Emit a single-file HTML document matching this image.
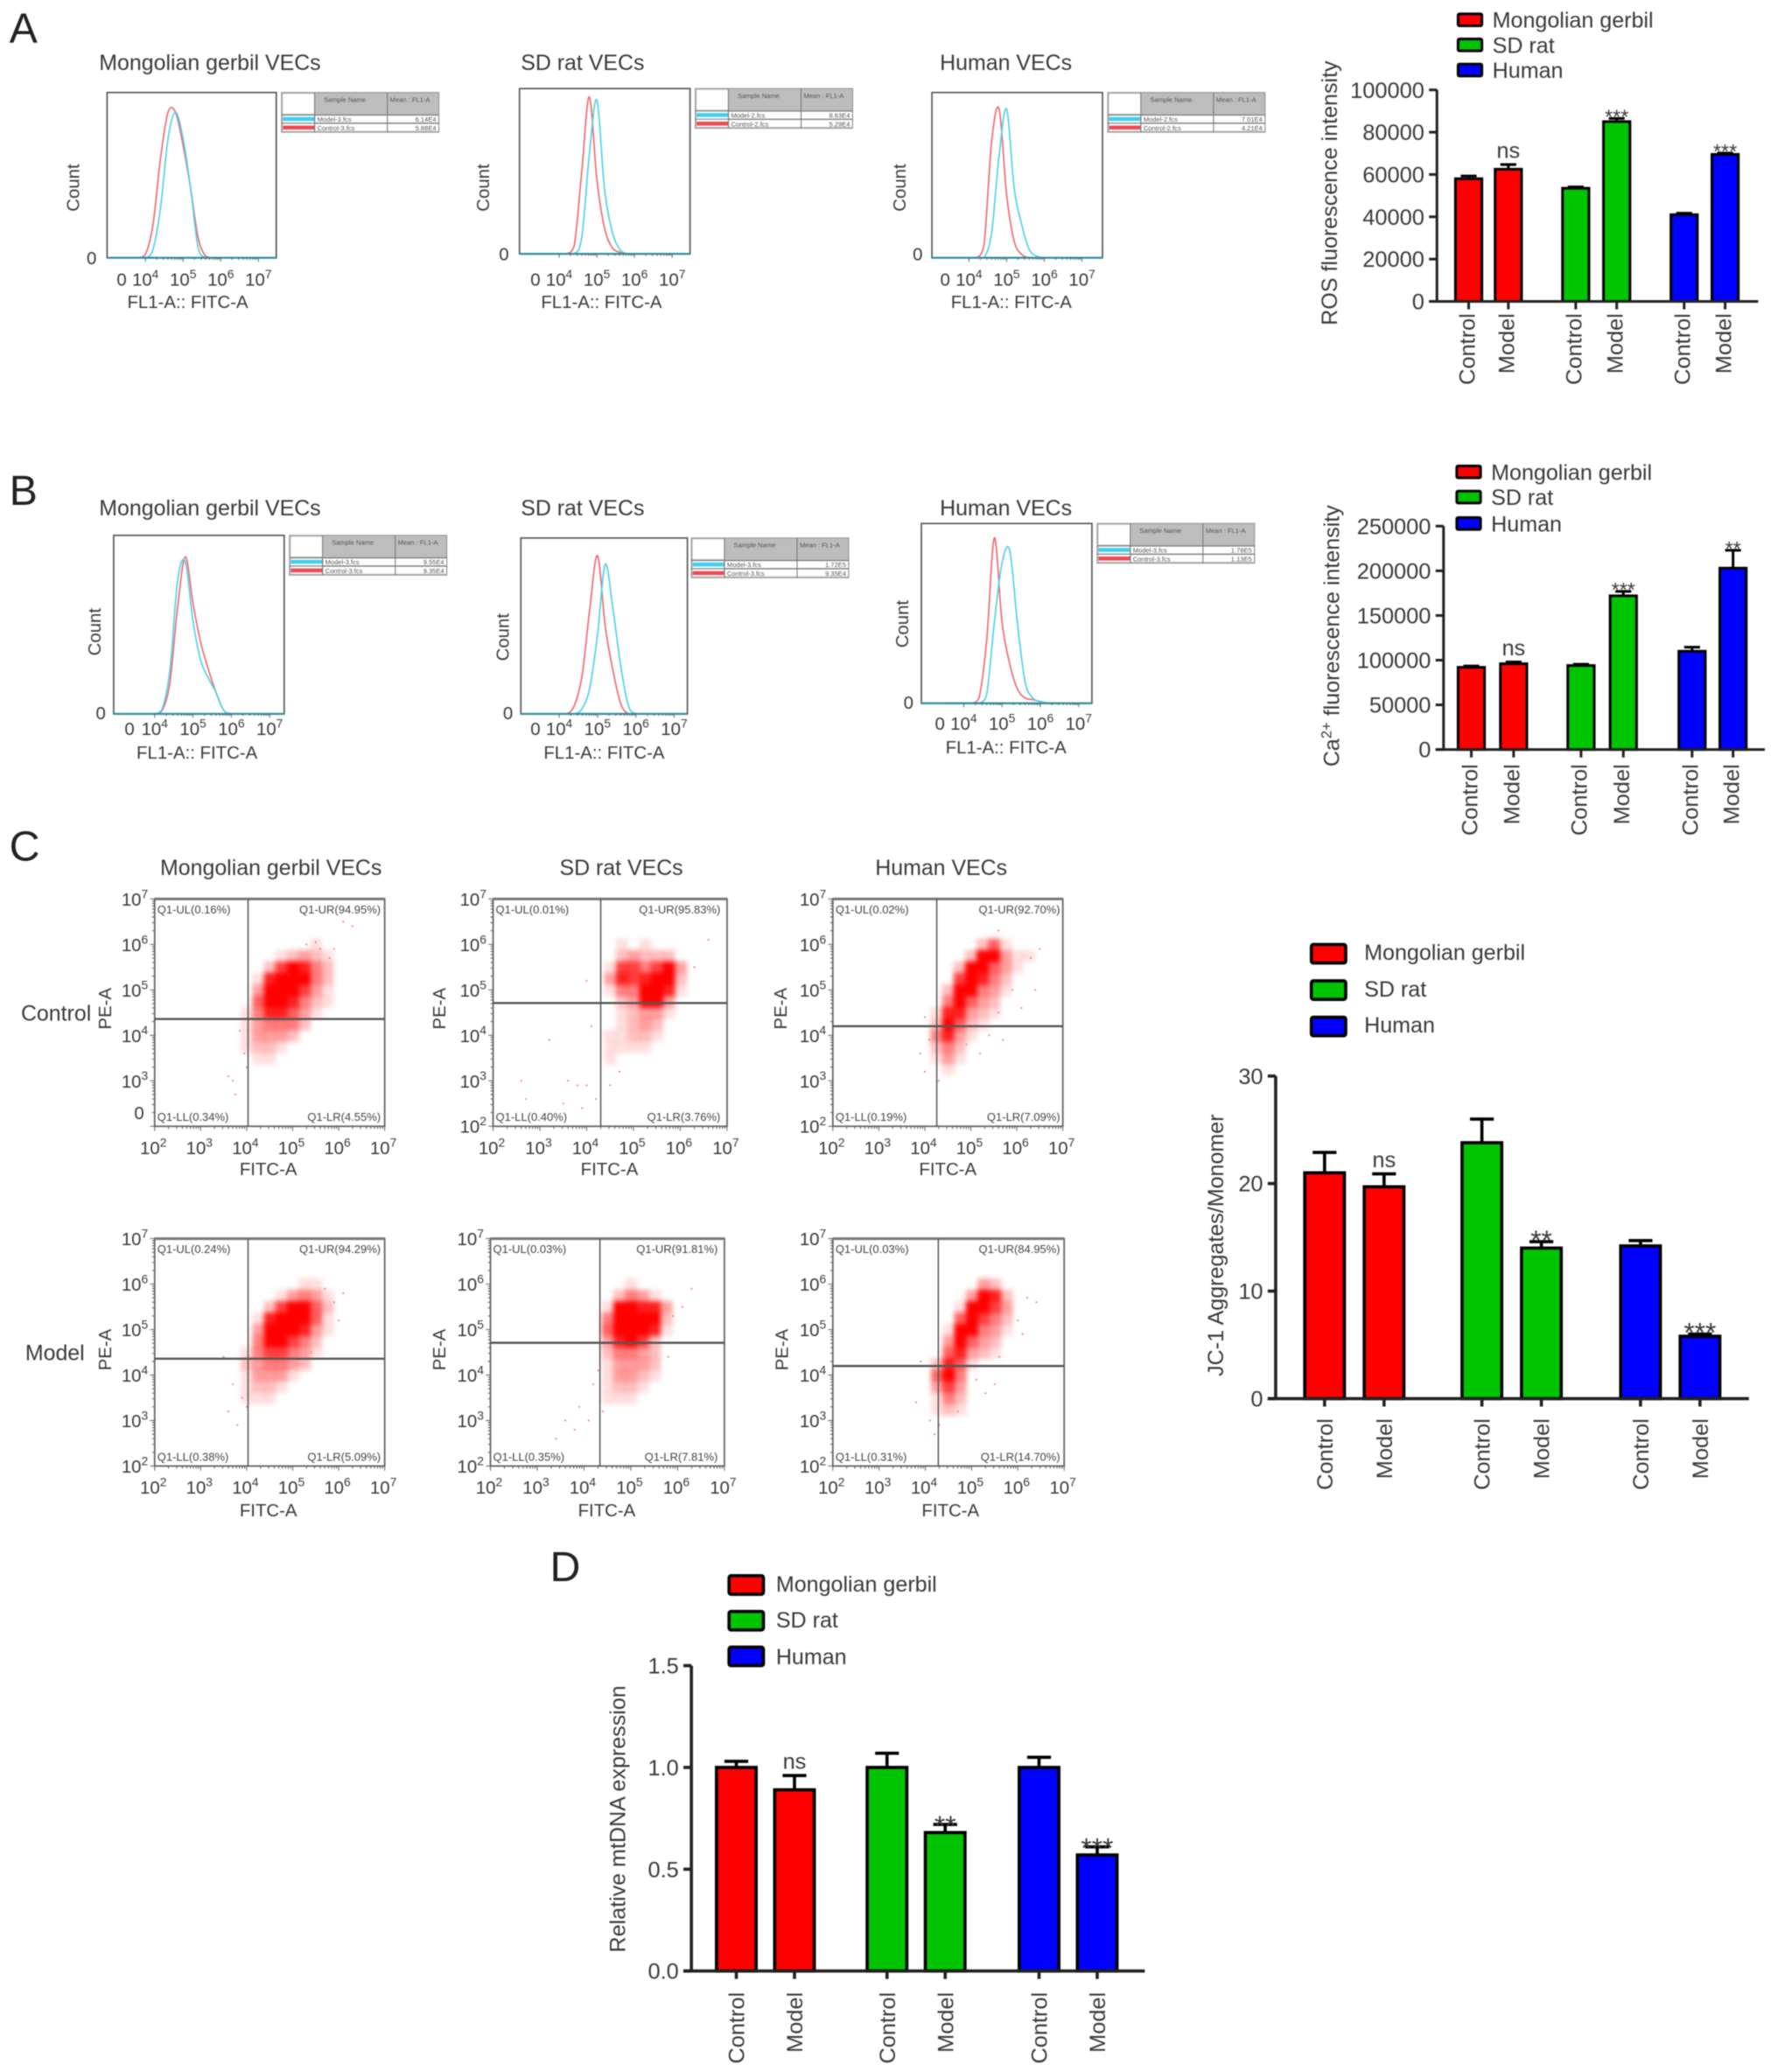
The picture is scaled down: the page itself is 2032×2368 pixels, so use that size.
<!DOCTYPE html>
<html lang="en">
<head>
<meta charset="utf-8">
<title>Flow cytometry and bar chart figure</title>
<style>
html,body{margin:0;padding:0;background:#fff;}
svg{display:block;width:2032px;height:2368px;filter:blur(0.6px);font-family:"Liberation Sans",sans-serif;}
.t{fill:#3a3a3a;font-size:16.6px;}
.title{fill:#3a3a3a;font-size:16.5px;}
.hx{fill:#3a3a3a;font-size:13.5px;text-anchor:middle;}
.cnt{fill:#3a3a3a;font-size:13.5px;text-anchor:middle;}
.zero{fill:#3a3a3a;font-size:13.5px;text-anchor:end;}
.letter{fill:#222;font-size:32px;}
.row{fill:#3a3a3a;font-size:16.5px;text-anchor:end;}
.q{fill:#444;font-size:8.6px;}
.qr{fill:#444;font-size:8.6px;text-anchor:end;}
.tb{fill:#555;font-size:5px;}
.tbr{fill:#555;font-size:5px;text-anchor:end;}
</style>
</head>
<body>
<svg id="fig" xmlns="http://www.w3.org/2000/svg" viewBox="0 0 1345 1567.4">
<defs>
<filter id="soft" x="-20%" y="-20%" width="140%" height="140%"><feGaussianBlur stdDeviation="2"/></filter>
<symbol id="tableFrame" overflow="visible">
<rect x="0" y="0" width="119" height="30" fill="#bdbdbd" stroke="#999" stroke-width="0.8"/>
<rect x="1" y="1" width="24" height="15" fill="#fff"/>
<rect x="1" y="17" width="24" height="12" fill="#fff"/>
<rect x="25.5" y="17.5" width="93" height="5.2" fill="#fff"/>
<rect x="25.5" y="23.8" width="93" height="5.2" fill="#fff"/>
<rect x="1" y="18.5" width="24" height="3" fill="#3fd0f0"/>
<rect x="1" y="25" width="24" height="3" fill="#f04a55"/>
<path d="M25 0V30M80 0V30M0 17H119M0 23.2H119" stroke="#777" stroke-width="0.7" fill="none"/>
</symbol>
</defs>

<text class="letter" x="7" y="32">A</text>
<text class="letter" x="7" y="382">B</text>
<text class="letter" x="7" y="651">C</text>
<text class="letter" x="416" y="1196">D</text>

<!-- Panel A titles and labels -->
<text class="title" x="75" y="53">Mongolian gerbil VECs</text>
<text class="title" x="394" y="53">SD rat VECs</text>
<text class="title" x="711" y="53">Human VECs</text>
<text class="hx" x="142" y="233">FL1-A:: FITC-A</text>
<text class="hx" x="455" y="233">FL1-A:: FITC-A</text>
<text class="hx" x="765" y="233">FL1-A:: FITC-A</text>
<text class="cnt" transform="translate(60,142) rotate(-90)">Count</text>
<text class="cnt" transform="translate(370,142) rotate(-90)">Count</text>
<text class="cnt" transform="translate(685,142) rotate(-90)">Count</text>
<text class="zero" x="73" y="200">0</text>
<text class="zero" x="385" y="197">0</text>
<text class="zero" x="698" y="197">0</text>

<g transform="translate(213,70)">
<use href="#tableFrame"/>
<text class="tb" x="32" y="7">Sample Name</text><text class="tb" x="82" y="7">Mean : FL1-A</text>
<text class="tb" x="27" y="22">Model-3.fcs</text><text class="tbr" x="117" y="22">6.14E4</text>
<text class="tb" x="27" y="28.5">Control-3.fcs</text><text class="tbr" x="117" y="28.5">5.88E4</text>
</g>
<g transform="translate(526,67)">
<use href="#tableFrame"/>
<text class="tb" x="32" y="7">Sample Name</text><text class="tb" x="82" y="7">Mean : FL1-A</text>
<text class="tb" x="27" y="22">Model-2.fcs</text><text class="tbr" x="117" y="22">8.63E4</text>
<text class="tb" x="27" y="28.5">Control-2.fcs</text><text class="tbr" x="117" y="28.5">5.29E4</text>
</g>
<g transform="translate(838,70)">
<use href="#tableFrame"/>
<text class="tb" x="32" y="7">Sample Name</text><text class="tb" x="82" y="7">Mean : FL1-A</text>
<text class="tb" x="27" y="22">Model-2.fcs</text><text class="tbr" x="117" y="22">7.01E4</text>
<text class="tb" x="27" y="28.5">Control-2.fcs</text><text class="tbr" x="117" y="28.5">4.21E4</text>
</g>

<!-- Panel B titles and labels -->
<text class="title" x="75" y="390">Mongolian gerbil VECs</text>
<text class="title" x="394" y="390">SD rat VECs</text>
<text class="title" x="711" y="390">Human VECs</text>
<text class="hx" x="149" y="574">FL1-A:: FITC-A</text>
<text class="hx" x="457" y="574">FL1-A:: FITC-A</text>
<text class="hx" x="761" y="570">FL1-A:: FITC-A</text>
<text class="cnt" transform="translate(76,478) rotate(-90)">Count</text>
<text class="cnt" transform="translate(385,482) rotate(-90)">Count</text>
<text class="cnt" transform="translate(687,472) rotate(-90)">Count</text>
<text class="zero" x="80" y="544">0</text>
<text class="zero" x="388" y="544">0</text>
<text class="zero" x="691" y="536">0</text>

<g transform="translate(219,405)">
<use href="#tableFrame"/>
<text class="tb" x="32" y="7">Sample Name</text><text class="tb" x="82" y="7">Mean : FL1-A</text>
<text class="tb" x="27" y="22">Model-3.fcs</text><text class="tbr" x="117" y="22">9.55E4</text>
<text class="tb" x="27" y="28.5">Control-3.fcs</text><text class="tbr" x="117" y="28.5">9.35E4</text>
</g>
<g transform="translate(523,407)">
<use href="#tableFrame"/>
<text class="tb" x="32" y="7">Sample Name</text><text class="tb" x="82" y="7">Mean : FL1-A</text>
<text class="tb" x="27" y="22">Model-3.fcs</text><text class="tbr" x="117" y="22">1.72E5</text>
<text class="tb" x="27" y="28.5">Control-3.fcs</text><text class="tbr" x="117" y="28.5">9.35E4</text>
</g>
<g transform="translate(830,396)">
<use href="#tableFrame"/>
<text class="tb" x="32" y="7">Sample Name</text><text class="tb" x="82" y="7">Mean : FL1-A</text>
<text class="tb" x="27" y="22">Model-3.fcs</text><text class="tbr" x="117" y="22">1.78E5</text>
<text class="tb" x="27" y="28.5">Control-3.fcs</text><text class="tbr" x="117" y="28.5">1.13E5</text>
</g>

<!-- Panel C titles and labels -->
<text class="title" x="205" y="662" text-anchor="middle">Mongolian gerbil VECs</text>
<text class="title" x="470" y="662" text-anchor="middle">SD rat VECs</text>
<text class="title" x="712" y="662" text-anchor="middle">Human VECs</text>
<text class="row" x="69" y="772">Control</text>
<text class="row" x="64" y="1029">Model</text>
<text class="hx" x="203" y="889">FITC-A</text>
<text class="hx" x="461" y="889">FITC-A</text>
<text class="hx" x="717" y="889">FITC-A</text>
<text class="hx" x="203" y="1147">FITC-A</text>
<text class="hx" x="459" y="1147">FITC-A</text>
<text class="hx" x="719" y="1147">FITC-A</text>
<text class="cnt" transform="translate(84,763) rotate(-90)">PE-A</text>
<text class="cnt" transform="translate(337,763) rotate(-90)">PE-A</text>
<text class="cnt" transform="translate(595,763) rotate(-90)">PE-A</text>
<text class="cnt" transform="translate(84,1021) rotate(-90)">PE-A</text>
<text class="cnt" transform="translate(337,1021) rotate(-90)">PE-A</text>
<text class="cnt" transform="translate(596,1021) rotate(-90)">PE-A</text>

<g id="dotLayer"></g>

<g>
<text class="q" x="119" y="691">Q1-UL(0.16%)</text><text class="qr" x="288" y="691">Q1-UR(94.95%)</text>
<text class="q" x="119" y="848">Q1-LL(0.34%)</text><text class="qr" x="288" y="848">Q1-LR(4.55%)</text>
</g>
<g>
<text class="q" x="375" y="691">Q1-UL(0.01%)</text><text class="qr" x="545" y="691">Q1-UR(95.83%)</text>
<text class="q" x="375" y="848">Q1-LL(0.40%)</text><text class="qr" x="545" y="848">Q1-LR(3.76%)</text>
</g>
<g>
<text class="q" x="632" y="691">Q1-UL(0.02%)</text><text class="qr" x="802" y="691">Q1-UR(92.70%)</text>
<text class="q" x="632" y="848">Q1-LL(0.19%)</text><text class="qr" x="802" y="848">Q1-LR(7.09%)</text>
</g>
<g>
<text class="q" x="119" y="948">Q1-UL(0.24%)</text><text class="qr" x="288" y="948">Q1-UR(94.29%)</text>
<text class="q" x="119" y="1105">Q1-LL(0.38%)</text><text class="qr" x="288" y="1105">Q1-LR(5.09%)</text>
</g>
<g>
<text class="q" x="373" y="948">Q1-UL(0.03%)</text><text class="qr" x="543" y="948">Q1-UR(91.81%)</text>
<text class="q" x="373" y="1105">Q1-LL(0.35%)</text><text class="qr" x="543" y="1105">Q1-LR(7.81%)</text>
</g>
<g>
<text class="q" x="632" y="948">Q1-UL(0.03%)</text><text class="qr" x="802" y="948">Q1-UR(84.95%)</text>
<text class="q" x="632" y="1105">Q1-LL(0.31%)</text><text class="qr" x="802" y="1105">Q1-LR(14.70%)</text>
</g>

<!-- Legends -->
<g stroke="#000" stroke-width="2">
<rect x="1103" y="10.5" width="18" height="9" rx="1" fill="#ff0000"/>
<rect x="1103" y="29.5" width="18" height="9" rx="1" fill="#00c400"/>
<rect x="1103" y="48.5" width="18" height="9" rx="1" fill="#0000ff"/>
<g stroke="none">
<text class="t" x="1129" y="21">Mongolian gerbil</text>
<text class="t" x="1129" y="40">SD rat</text>
<text class="t" x="1129" y="59">Human</text>
</g></g>
<g stroke="#000" stroke-width="2">
<rect x="1102" y="352.5" width="18" height="9" rx="1" fill="#ff0000"/>
<rect x="1102" y="371.5" width="18" height="9" rx="1" fill="#00c400"/>
<rect x="1102" y="391.5" width="18" height="9" rx="1" fill="#0000ff"/>
<g stroke="none">
<text class="t" x="1128" y="363">Mongolian gerbil</text>
<text class="t" x="1128" y="382">SD rat</text>
<text class="t" x="1128" y="402">Human</text>
</g></g>
<g stroke="#000" stroke-width="2.4">
<rect x="992" y="714.5" width="26" height="14" rx="1.5" fill="#ff0000"/>
<rect x="992" y="742" width="26" height="14" rx="1.5" fill="#00c400"/>
<rect x="992" y="769.5" width="26" height="14" rx="1.5" fill="#0000ff"/>
<g stroke="none">
<text class="t" x="1032" y="726">Mongolian gerbil</text>
<text class="t" x="1032" y="754">SD rat</text>
<text class="t" x="1032" y="781">Human</text>
</g></g>
<g stroke="#000" stroke-width="2.4">
<rect x="551.5" y="1192" width="26" height="14" rx="1.5" fill="#ff0000"/>
<rect x="551.5" y="1219" width="26" height="14" rx="1.5" fill="#00c400"/>
<rect x="551.5" y="1246" width="26" height="14" rx="1.5" fill="#0000ff"/>
<g stroke="none">
<text class="t" x="587" y="1204">Mongolian gerbil</text>
<text class="t" x="587" y="1231">SD rat</text>
<text class="t" x="587" y="1259">Human</text>
</g></g>

<!-- Bar chart y-axis titles -->
<text class="t" text-anchor="middle" transform="translate(1011.5,146) rotate(-90)">ROS fluorescence intensity</text>
<text class="t" text-anchor="middle" transform="translate(1013,481) rotate(-90)">Ca<tspan font-size="11" dy="-6">2+</tspan><tspan dy="6"> fluorescence intensity</tspan></text>
<text class="t" text-anchor="middle" transform="translate(925.5,942) rotate(-90)">JC-1 Aggregates/Monomer</text>
<text class="t" text-anchor="middle" transform="translate(473,1376) rotate(-90)">Relative mtDNA expression</text>

<g id="histLayer"></g>
<g id="barLayer"></g>
</svg>

<script>
// ---------- Bar chart data ----------
const barCategories = ['Control','Model','Control','Model','Control','Model'];
const barColors = ['#ff0000','#ff0000','#00c400','#00c400','#0000ff','#0000ff'];

const rosValues = [58000,62500,53500,85000,41000,69500];
const rosErrors = [1300,2200,600,1500,700,600];
const rosSignificance = ['','ns','','***','','***'];
const rosTicks = [0,20000,40000,60000,80000,100000];

const calciumValues = [92000,96000,94000,172000,110000,203000];
const calciumErrors = [1500,2000,1500,5000,4500,20000];
const calciumSignificance = ['','ns','','***','','**'];
const calciumTicks = [0,50000,100000,150000,200000,250000];

const jc1Values = [21,19.7,23.8,14,14.2,5.8];
const jc1Errors = [1.9,1.2,2.2,0.6,0.5,0.2];
const jc1Significance = ['','ns','','**','','***'];
const jc1Ticks = [0,10,20,30];

const mtdnaValues = [1,0.89,1,0.68,1,0.57];
const mtdnaErrors = [0.03,0.07,0.07,0.04,0.05,0.04];
const mtdnaSignificance = ['','ns','','**','','***'];
const mtdnaTicks = ['0.0','0.5','1.0','1.5'];

// ---------- Histogram data (percent of plot height per log10 bin) ----------
const histBins = [3.6,3.8,4.0,4.2,4.4,4.6,4.8,5.0,5.2,5.4,5.6,5.8,6.0,6.2,6.4];
const histTickLabels = ['4','5','6','7'];
const a1Control = [0,0,2,20,60,88,88,68,42,12,1,0,0,0,0];
const a1Model   = [0,0,0,5,30,72,88,72,42,6,0,0,0,0,0];
const a2Control = [0,0,0,0,5,50,95,45,16,4,1,0,0,0,0];
const a2Model   = [0,0,0,0,0,10,60,93,40,14,3,0,0,0,0];
const a3Control = [0,0,0,0,8,70,90,38,10,2,0,0,0,0,0];
const a3Model   = [0,0,0,0,0,15,62,90,42,20,5,1,0,0,0];
const b1Control = [0,0,0,2,18,60,88,62,40,25,12,2,0,0,0];
const b1Model   = [0,0,0,3,25,75,85,52,30,20,12,2,0,0,0];
const b2Control = [0,0,0,0,5,22,60,90,50,25,6,0,0,0,0];
const b2Model   = [0,0,0,0,0,3,15,45,85,60,28,5,0,0,0];
const b3Control = [0,0,0,0,3,35,92,45,22,8,3,2,1,0,0];
const b3Model   = [0,0,0,0,0,5,45,78,85,45,12,3,1,0,0];

// ---------- Dot plot data ----------
const densityLogX = [3.5,3.75,4,4.25,4.5,4.75,5,5.25,5.5,5.75,6,6.25,6.5,6.75];
const densityLogY = [6.5,6.25,6,5.75,5.5,5.25,5,4.75,4.5,4.25,4,3.75,3.5,3.25];
const dotTickExponents = ['2','3','4','5','6','7'];
const c1Density = [
[0,0,0,0,0,0,0,0,0,0,0,0,0,0],[0,0,0,0,0,0,0,0,0,0,0,0,0,0],[0,0,0,0,0,0,0,0,1,0,0,0,0,0],
[0,0,0,0,0,1,2,3,2,1,0,0,0,0],[0,0,0,0,2,6,8,7,4,2,0,0,0,0],[0,0,0,1,7,9,9,8,4,2,0,0,0,0],
[0,0,0,3,9,9,9,6,3,1,0,0,0,0],[0,0,0,5,9,9,7,4,2,1,0,0,0,0],[0,0,1,4,7,7,5,3,1,0,0,0,0,0],
[0,0,1,3,4,4,4,2,0,0,0,0,0,0],[0,0,1,3,3,3,2,0,0,0,0,0,0,0],[0,0,1,2,2,1,0,0,0,0,0,0,0,0],
[0,0,0,1,1,0,0,0,0,0,0,0,0,0],[0,0,0,0,0,0,0,0,0,0,0,0,0,0]];
const c2Density = [
[0,0,0,0,0,0,0,0,0,0,0,0,0,0],[0,0,0,0,0,0,0,0,0,0,0,0,0,0],[0,0,0,0,0,1,0,1,0,0,0,0,0,0],
[0,0,0,0,0,2,3,2,2,2,0,0,0,0],[0,0,0,0,1,6,6,4,6,8,3,0,0,0],[0,0,0,0,3,7,6,7,9,9,2,0,0,0],
[0,0,0,0,1,4,4,8,9,7,1,0,0,0],[0,0,0,0,0,2,3,8,9,3,0,0,0,0],[0,0,0,0,0,1,2,3,3,1,0,0,0,0],
[0,0,0,0,0,1,2,3,2,0,0,0,0,0],[0,0,0,0,1,1,2,2,1,0,0,0,0,0],[0,0,0,0,1,1,1,1,0,0,0,0,0,0],
[0,0,0,0,1,0,0,0,0,0,0,0,0,0],[0,0,0,0,0,0,0,0,0,0,0,0,0,0]];
const c3Density = [
[0,0,0,0,0,0,0,0,0,0,0,0,0,0],[0,0,0,0,0,0,0,0,0,0,0,0,0,0],[0,0,0,0,0,0,0,2,5,1,0,0,0,0],
[0,0,0,0,0,0,2,8,9,3,1,1,0,0],[0,0,0,0,0,2,9,9,5,3,1,0,0,0],[0,0,0,0,0,6,9,7,4,2,0,0,0,0],
[0,0,0,0,2,9,8,4,3,1,0,0,0,0],[0,0,0,0,4,9,5,3,2,0,0,0,0,0],[0,0,0,1,7,7,3,2,1,0,0,0,0,0],
[0,0,0,2,8,5,2,1,0,0,0,0,0,0],[0,0,0,4,7,3,1,0,0,0,0,0,0,0],[0,0,0,2,4,2,0,0,0,0,0,0,0,0],
[0,0,0,1,3,1,0,0,0,0,0,0,0,0],[0,0,0,0,1,0,0,0,0,0,0,0,0,0]];
const c4Density = [
[0,0,0,0,0,0,0,0,0,0,0,0,0,0],[0,0,0,0,0,0,0,0,0,0,0,0,0,0],[0,0,0,0,0,0,0,1,1,0,0,0,0,0],
[0,0,0,0,0,1,3,4,3,1,0,0,0,0],[0,0,0,0,2,6,9,8,5,2,0,0,0,0],[0,0,0,1,7,9,9,9,5,1,0,0,0,0],
[0,0,0,3,9,9,9,7,3,1,0,0,0,0],[0,0,0,4,8,8,6,4,2,0,0,0,0,0],[0,0,1,4,6,6,4,3,1,0,0,0,0,0],
[0,0,2,3,4,4,3,2,0,0,0,0,0,0],[0,0,1,3,3,3,1,0,0,0,0,0,0,0],[0,0,1,2,2,1,0,0,0,0,0,0,0,0],
[0,0,1,1,1,0,0,0,0,0,0,0,0,0],[0,0,0,0,0,0,0,0,0,0,0,0,0,0]];
const c5Density = [
[0,0,0,0,0,0,0,0,0,0,0,0,0,0],[0,0,0,0,0,0,0,0,0,0,0,0,0,0],[0,0,0,0,0,0,1,0,0,0,0,0,0,0],
[0,0,0,0,0,2,4,3,1,0,0,0,0,0],[0,0,0,0,1,8,9,7,7,3,0,0,0,0],[0,0,0,0,4,9,9,9,9,2,0,0,0,0],
[0,0,0,0,5,9,9,9,7,1,0,0,0,0],[0,0,0,0,3,7,8,6,2,0,0,0,0,0],[0,0,0,0,2,4,4,3,2,0,0,0,0,0],
[0,0,0,0,1,3,3,3,2,0,0,0,0,0],[0,0,0,0,1,3,3,2,1,0,0,0,0,0],[0,0,0,0,1,2,2,1,0,0,0,0,0,0],
[0,0,0,0,1,1,1,0,0,0,0,0,0,0],[0,0,0,0,0,0,0,0,0,0,0,0,0,0]];
const c6Density = [
[0,0,0,0,0,0,0,0,0,0,0,0,0,0],[0,0,0,0,0,0,0,0,0,0,0,0,0,0],[0,0,0,0,0,0,0,3,2,0,0,0,0,0],
[0,0,0,0,0,0,3,8,7,2,0,0,0,0],[0,0,0,0,0,1,8,9,6,3,0,0,0,0],[0,0,0,0,0,5,9,6,4,2,0,0,0,0],
[0,0,0,0,1,8,8,4,3,1,0,0,0,0],[0,0,0,0,3,8,5,3,2,0,0,0,0,0],[0,0,0,0,5,7,3,2,1,0,0,0,0,0],
[0,0,0,2,7,5,1,0,0,0,0,0,0,0],[0,0,0,5,8,4,0,0,0,0,0,0,0,0],[0,0,0,3,6,3,0,0,0,0,0,0,0,0],
[0,0,0,1,4,2,0,0,0,0,0,0,0,0],[0,0,0,1,2,1,0,0,0,0,0,0,0,0]];

const c1SparseX = [3.6,3.7,3.75,4.0,6.1,6.3,5.8,5.9,5.6,5.5,3.85,3.95,5.3];
const c1SparseY = [3.1,3.0,2.7,3.3,6.5,6.4,5.7,5.9,5.9,6.05,4.1,3.6,6.0];
const c2SparseX = [2.6,2.7,3.2,3.5,3.6,4.0,4.2,4.1,6.6,6.3,3.8,4.5,4.7,4.0,3.9];
const c2SparseY = [3.0,2.6,3.9,2.5,3.0,2.9,2.6,4.2,6.1,5.5,2.9,2.9,3.2,5.2,2.4];
const c3SparseX = [3.9,4.0,4.1,5.6,6.3,6.5,6.4,5.9,4.3,4.0,5.4,5.7,6.1,5.2,4.9,5.6];
const c3SparseY = [3.6,3.2,3.9,4.5,5.7,5.9,5.0,5.0,3.0,4.4,4.0,3.9,4.6,3.6,3.8,6.3];
const c4SparseX = [3.6,3.8,4.0,5.9,6.1,6.0,5.7,3.7,3.9,5.4,3.5];
const c4SparseY = [3.2,2.9,3.3,5.6,5.8,5.2,5.9,3.8,3.5,4.5,4.4];
const c5SparseX = [3.4,3.6,3.9,4.1,6.3,6.1,5.9,4.3,5.8,3.8,4.4,4.2];
const c5SparseY = [2.6,3.0,3.3,3.0,5.9,5.5,5.3,4.1,4.4,2.8,3.2,3.8];
const c6SparseX = [3.8,3.9,4.1,4.2,5.6,6.2,6.4,6.0,4.3,5.5,5.7,6.1,5.3,5.1,4.7];
const c6SparseY = [3.4,4.3,3.0,2.7,4.4,5.7,5.6,5.2,2.9,3.8,4.2,4.9,3.6,3.9,3.2];

// ---------- Drawing helpers ----------
const SVGNS = 'http://www.w3.org/2000/svg';
function mk(tag, attrs, parent){
  const e = document.createElementNS(SVGNS, tag);
  for (const k in attrs) e.setAttribute(k, attrs[k]);
  parent.appendChild(e);
  return e;
}
const INK = '#3a3a3a';

function powerLabel(parent, x, y, exponent, anchor, size){
  const t = mk('text', {x:x, y:y, fill:INK, 'font-size':size, 'text-anchor':anchor}, parent);
  
  
  const a = mk('tspan', {}, t);
  a.textContent = '10';
  const b = mk('tspan', {dy:-size*0.42, 'font-size':size*0.68}, t);
  b.textContent = exponent;
  return t;
}

// ---------- Bar charts ----------
function drawBarChart(name, values, errors, sig, ticks, yMax, geo){
  const g = mk('g', {}, document.getElementById('barLayer'));
  
  
  const y = v => geo.y0 - (v / yMax) * (geo.y0 - geo.yTop);
  const sw = geo.stroke;

  values.forEach((v, i) => {
    const cx = geo.centers[i];
    const top = y(v + errors[i]);
    const err = mk('path', {d:'M'+cx+' '+y(v)+'V'+top+'M'+(cx-geo.width*0.3)+' '+top+'H'+(cx+geo.width*0.3), stroke:'#000', 'stroke-width':sw, fill:'none'}, g);
    
    
    const bar = mk('rect', {x:cx-geo.width/2, y:y(v), width:geo.width, height:geo.y0-y(v), fill:barColors[i], stroke:'#000', 'stroke-width':sw}, g);
    
    
    const tick = mk('line', {x1:cx, x2:cx, y1:geo.y0, y2:geo.y0+6, stroke:'#222', 'stroke-width':sw}, g);
    
    
    const lab = mk('text', {'text-anchor':'end', fill:INK, 'font-size':16.8, transform:'translate('+(cx+geo.labelShift)+','+(geo.y0+geo.labelDrop)+') rotate(-90)'}, g);
    
    
    lab.textContent = barCategories[i];
    if (sig[i]) {
      const isNs = sig[i] === 'ns';
      const s = mk('text', {x:cx, y:isNs ? top-5 : top+geo.starDrop, 'text-anchor':'middle', fill:INK, 'font-size':isNs ? 16.8 : geo.starSize}, g);
      
      
      s.textContent = sig[i];
    }
  });

  const axis = mk('path', {d:'M'+geo.x0+' '+geo.yTop+'V'+geo.y0+'M'+(geo.x0-6)+' '+geo.y0+'H'+geo.xEnd, stroke:'#222', 'stroke-width':sw, fill:'none'}, g);
  
  
  ticks.forEach(t => {
    const py = y(Number(t));
    const tk = mk('line', {x1:geo.x0-6, x2:geo.x0, y1:py, y2:py, stroke:'#222', 'stroke-width':sw}, g);
    
    
    const lb = mk('text', {x:geo.x0-9.5, y:py+6, 'text-anchor':'end', fill:INK, 'font-size':16.8}, g);
    
    
    lb.textContent = t;
  });
}

drawBarChart('ros', rosValues, rosErrors, rosSignificance, rosTicks, 100000,
  {x0:1087, y0:228, yTop:68, xEnd:1330, width:20, stroke:2, starSize:15.4, starDrop:4, labelDrop:9, labelShift:4.5, centers:[1111,1141,1192,1223,1274,1305]});
drawBarChart('calcium', calciumValues, calciumErrors, calciumSignificance, calciumTicks, 250000,
  {x0:1092, y0:567, yTop:398, xEnd:1335, width:20, stroke:2, starSize:15.4, starDrop:4, labelDrop:11, labelShift:4.5, centers:[1113,1145,1196,1228,1280,1311]});
drawBarChart('jc1', jc1Values, jc1Errors, jc1Significance, jc1Ticks, 30,
  {x0:965, y0:1058, yTop:814, xEnd:1323, width:30, stroke:2.4, starSize:21, starDrop:6, labelDrop:15, labelShift:6, centers:[1002,1047,1121,1166,1241,1286]});
drawBarChart('mtdna', mtdnaValues, mtdnaErrors, mtdnaSignificance, mtdnaTicks, 1.5,
  {x0:523, y0:1491, yTop:1260, xEnd:866, width:30, stroke:2.4, starSize:21, starDrop:8, labelDrop:16, labelShift:6, centers:[557,601,671,715,786,830]});

// ---------- Histograms ----------
function curvePath(xs, ys, baseY){
  let d = 'M' + xs[0] + ' ' + ys[0];
  for (let i = 0; i < xs.length - 1; i++) {
    const i0 = Math.max(i-1, 0), i3 = Math.min(i+2, xs.length-1);
    const c1x = xs[i] + (xs[i+1]-xs[i0])/6, c1y = Math.min(baseY, ys[i] + (ys[i+1]-ys[i0])/6);
    const c2x = xs[i+1] - (xs[i3]-xs[i])/6, c2y = Math.min(baseY, ys[i+1] - (ys[i3]-ys[i])/6);
    d += 'C' + c1x + ' ' + c1y + ' ' + c2x + ' ' + c2y + ' ' + xs[i+1] + ' ' + ys[i+1];
  }
  return d;
}
function drawHistogram(name, control, model, geo){
  const g = mk('g', {}, document.getElementById('histLayer'));
  
  
  const xs = l => geo.tick4 + geo.decade * (l - 4);
  const ys = c => geo.bottom - c / 100 * (geo.bottom - geo.top);
  const px = histBins.map(xs);
  const red = mk('path', {d:curvePath(px, control.map(ys), geo.bottom), fill:'none', stroke:'#f2686e', 'stroke-width':1.1}, g);
  
  
  const cyan = mk('path', {d:curvePath(px, model.map(ys), geo.bottom), fill:'none', stroke:'#4fd0ea', 'stroke-width':1.1}, g);
  
  
  const box = mk('rect', {x:geo.left, y:geo.top, width:geo.right-geo.left, height:geo.bottom-geo.top, fill:'none', stroke:'#555', 'stroke-width':1.1}, g);
  
  
  const baseL = mk('line', {x1:geo.left, x2:geo.right, y1:geo.bottom, y2:geo.bottom, stroke:'#2f8fa5', 'stroke-width':1.5}, g);
  
  
  let tickPath = '';
  for (let dec = 4; dec <= 7; dec++) {
    tickPath += 'M' + xs(dec) + ' ' + geo.bottom + 'v3';
    if (dec < 7) for (let m = 2; m < 10; m++) tickPath += 'M' + xs(dec + Math.log10(m)) + ' ' + geo.bottom + 'v1.5';
  }
  const tp = mk('path', {d:tickPath, stroke:'#555', 'stroke-width':0.6, fill:'none'}, g);
  
  
  const zero = mk('text', {x:geo.zero, y:geo.labelY, 'text-anchor':'middle', fill:INK, 'font-size':13.5}, g);
  
  
  zero.textContent = '0';
  histTickLabels.forEach(exp => powerLabel(g, xs(Number(exp)), geo.labelY, exp, 'middle', 13.5));
}
drawHistogram('a1', a1Control, a1Model, {left:81, right:209, top:70, bottom:195, tick4:110, decade:28.5, zero:92, labelY:216});
drawHistogram('a2', a2Control, a2Model, {left:393, right:522, top:67, bottom:192, tick4:423, decade:28.5, zero:405, labelY:216});
drawHistogram('a3', a3Control, a3Model, {left:705, right:834, top:70, bottom:195, tick4:733, decade:28.5, zero:715, labelY:216});
drawHistogram('b1', b1Control, b1Model, {left:86, right:215, top:405, bottom:540, tick4:117, decade:29, zero:98, labelY:556});
drawHistogram('b2', b2Control, b2Model, {left:394, right:520, top:407, bottom:540, tick4:423, decade:29, zero:405, labelY:556});
drawHistogram('b3', b3Control, b3Model, {left:697, right:826, top:396, bottom:532, tick4:729, decade:29, zero:711, labelY:552});

// ---------- Dot plots ----------
function drawDotPlot(name, density, sparseX, sparseY, gateX, gateY, yLabels, geo){
  const g = mk('g', {}, document.getElementById('dotLayer'));
  
  
  const w = geo.right - geo.left, h = geo.bottom - geo.top;
  const xs = l => geo.left + (l - 2) / 5 * w;
  const ys = l => geo.bottom - (l - 2) / 5 * h;

  const cloud = mk('g', {filter:'url(#soft)'}, g);
  
  
  density.forEach((row, r) => row.forEach((v, c) => {
    if (!v) return;
    const cell = mk('rect', {x:xs(densityLogX[c]-0.125), y:ys(densityLogY[r]+0.125), width:w/20+0.5, height:h/20+0.5, fill:'#ff0000', opacity:Math.min(1, v/8)}, cloud);
    
    
  }));
  sparseX.forEach((lx, i) => {
    const dot = mk('circle', {cx:xs(lx), cy:ys(sparseY[i]), r:0.7, fill:'#f77'}, g);
    
    
  });

  const box = mk('rect', {x:geo.left, y:geo.top, width:w, height:h, fill:'none', stroke:'#666', 'stroke-width':1.2}, g);
  
  
  const topEdge = mk('line', {x1:geo.left, x2:geo.right, y1:geo.top, y2:geo.top, stroke:'#777', 'stroke-width':2}, g);
  
  
  const gateV = mk('line', {x1:xs(gateX), x2:xs(gateX), y1:geo.top, y2:geo.bottom, stroke:'#555', 'stroke-width':1}, g);
  
  
  const gateH = mk('line', {x1:geo.left, x2:geo.right, y1:ys(gateY), y2:ys(gateY), stroke:'#555', 'stroke-width':1.6}, g);
  
  

  let tickPath = '';
  for (let dec = 2; dec <= 7; dec++) {
    tickPath += 'M'+xs(dec)+' '+geo.bottom+'v3.5M'+geo.left+' '+ys(dec)+'h-3.5';
    if (dec < 7) for (let m = 2; m < 10; m++) {
      const lg = dec + Math.log10(m);
      tickPath += 'M'+xs(lg)+' '+geo.bottom+'v2M'+geo.left+' '+ys(lg)+'h-2';
    }
  }
  const tp = mk('path', {d:tickPath, stroke:'#555', 'stroke-width':0.6, fill:'none'}, g);
  
  

  dotTickExponents.forEach(exp => {
    const lbl = powerLabel(g, xs(Number(exp)) - 1, geo.bottom + 21, exp, 'middle', 13.5);
    
  });
  yLabels.forEach(lab => {
    const py = ys(lab === '0' ? 2.3 : Number(lab));
    if (lab === '0') {
      const z = mk('text', {x:geo.left-8, y:py+5, 'text-anchor':'end', fill:INK, 'font-size':13.5}, g);
      
      
      z.textContent = '0';
    } else {
      const lbl = powerLabel(g, geo.left-5, py+5, lab, 'end', 13.5);
      
    }
  });
}
const zeroAxisLabels = ['7','6','5','4','3','0'];
const logAxisLabels = ['7','6','5','4','3','2'];
drawDotPlot('c1', c1Density, c1SparseX, c1SparseY, 4.03, 4.36, zeroAxisLabels, {left:117, right:291, top:680, bottom:852});
drawDotPlot('c2', c2Density, c2SparseX, c2SparseY, 4.3, 4.71, logAxisLabels, {left:373, right:550, top:680, bottom:852});
drawDotPlot('c3', c3Density, c3SparseX, c3SparseY, 4.26, 4.2, logAxisLabels, {left:630, right:804, top:680, bottom:852});
drawDotPlot('c4', c4Density, c4SparseX, c4SparseY, 4.03, 4.36, logAxisLabels, {left:117, right:291, top:937, bottom:1109});
drawDotPlot('c5', c5Density, c5SparseX, c5SparseY, 4.34, 4.71, logAxisLabels, {left:371, right:548, top:937, bottom:1109});
drawDotPlot('c6', c6Density, c6SparseX, c6SparseY, 4.28, 4.2, logAxisLabels, {left:630, right:805, top:937, bottom:1109});
</script>
</body>
</html>
